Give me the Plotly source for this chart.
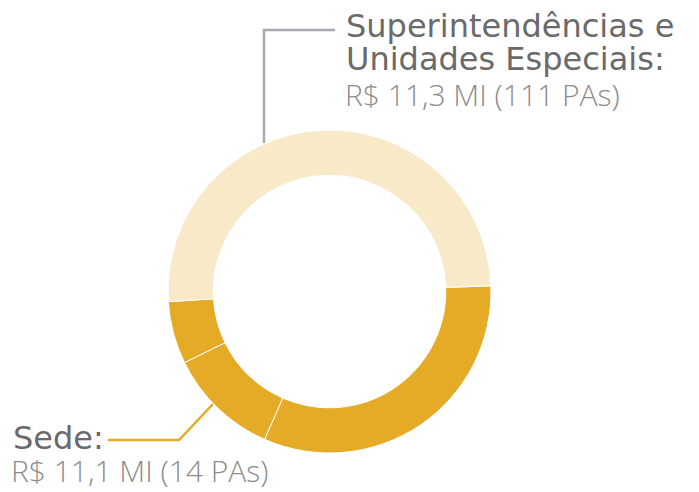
import plotly.graph_objects as go

W, H = 699, 492

# Data
slice_labels = ["Sede A", "Sede B", "Sede C", "Superintendências e Unidades Especiais"]
slice_values = [7.2, 2.5, 1.4, 11.3]
slice_colors = ["#E5AA26", "#E5AA26", "#E5AA26", "#F8E9C9"]

label_titles = ["Superintendências e", "Unidades Especiais:"]
label_value_sup = "R$ 11,3 MI (111 PAs)"
label_title_sede = "Sede:"
label_value_sede = "R$ 11,1 MI (14 PAs)"

TITLE_FONT = "DejaVu Sans"
VALUE_FONT = "Open Sans"
TITLE_COLOR = "#6A6A6A"
VALUE_COLOR = "#8C8C8C"
GOLD = "#E5AA26"
GREY_LINE = "#A9A9B1"


def px(x):
    return x / W


def py(y):
    return 1 - y / H


cx, cy, r = 329.5, 291.5, 161.5

fig = go.Figure(
    go.Pie(
        labels=slice_labels,
        values=slice_values,
        hole=0.72,
        sort=False,
        direction="clockwise",
        rotation=88,
        marker=dict(colors=slice_colors, line=dict(color="white", width=1)),
        textinfo="none",
        hoverinfo="label+value",
        showlegend=False,
        domain=dict(x=[px(cx - r), px(cx + r)], y=[py(cy + r), py(cy - r)]),
    )
)

ann = []


def text(x, y, s, family, size, color, weight):
    ann.append(
        dict(
            x=px(x), y=py(y), xref="paper", yref="paper", text=s, showarrow=False,
            xanchor="left", yanchor="middle", borderpad=0,
            font=dict(family=family, size=size, color=color, weight=weight),
        )
    )


TS, VS = 32, 30
text(345, 25.5, label_titles[0], TITLE_FONT, TS, TITLE_COLOR, 400)
text(345, 59, label_titles[1], TITLE_FONT, TS, TITLE_COLOR, 400)
text(344, 94.5, label_value_sup, VALUE_FONT, VS, VALUE_COLOR, 300)
text(12, 437.5, label_title_sede, TITLE_FONT, TS, TITLE_COLOR, 400)
text(10, 470, label_value_sede, VALUE_FONT, VS, VALUE_COLOR, 300)

shapes = [
    dict(type="path", xref="paper", yref="paper",
         path=f"M {px(264)},{py(143)} L {px(264)},{py(30)} L {px(335)},{py(30)}",
         line=dict(color=GREY_LINE, width=2.5)),
    dict(type="path", xref="paper", yref="paper",
         path=f"M {px(108)},{py(440)} L {px(179)},{py(440)} L {px(213)},{py(404)}",
         line=dict(color=GOLD, width=2.5)),
]

fig.update_layout(
    width=W, height=H,
    margin=dict(l=0, r=0, t=0, b=0),
    paper_bgcolor="white", plot_bgcolor="white",
    annotations=ann, shapes=shapes,
)

fig.write_html(
    "out.html",
    config={"displayModeBar": False},
    post_script="document.body.style.margin='0';document.body.style.overflow='hidden';",
)
